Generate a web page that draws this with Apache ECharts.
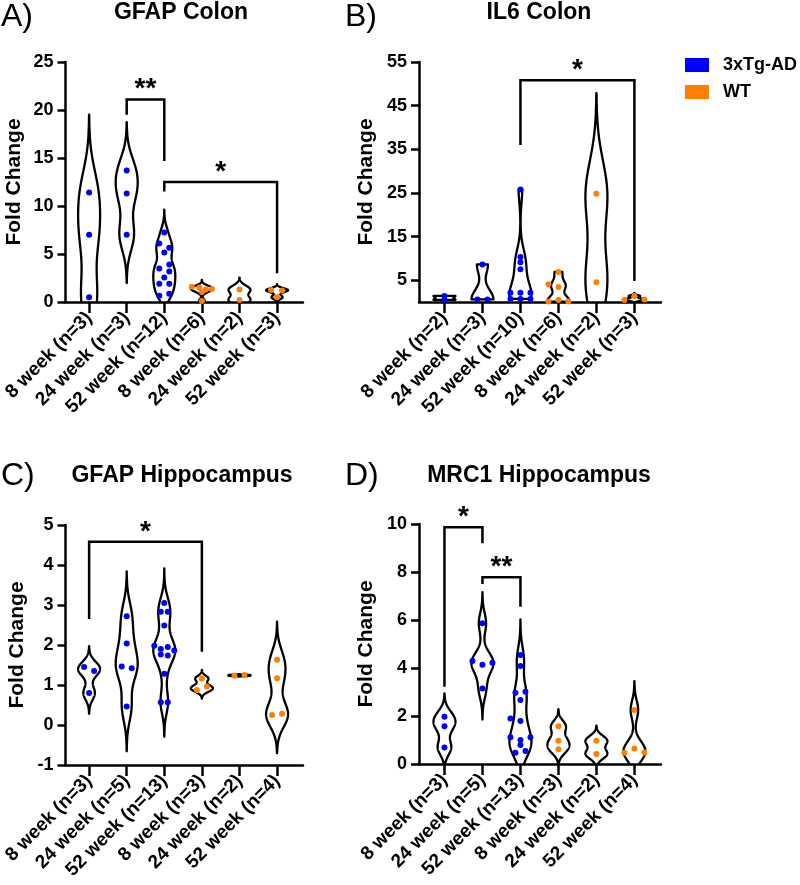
<!DOCTYPE html>
<html><head><meta charset="utf-8">
<script src="https://cdn.jsdelivr.net/npm/echarts@6/dist/echarts.min.js"></script>
<style>html,body{margin:0;padding:0;background:#fff}#c{width:800px;height:885px}</style>
</head><body><div id="c"></div>
<script>
// ---------------- DATA ----------------
const genotypes = ['3xTg-AD','3xTg-AD','3xTg-AD','WT','WT','WT'];

// A) GFAP Colon
const catsA = ['8 week (n=3)','24 week (n=3)','52 week (n=12)','8 week (n=6)','24 week (n=2)','52 week (n=3)'];
const valsA = [
  [11.4, 7.0, 0.5],
  [13.7, 11.3, 7.0],
  [7.24, 6.1, 5.64, 5.16, 3.91, 3.5, 3.19, 2.56, 1.9, 1.9, 0.66, 0.87],
  [1.6, 1.5, 1.3, 1.35, 1.05, 0.1],
  [1.3, 0.2],
  [1.25, 1.2, 0.5]
];
const lanesA = [[0,0,0],[0,0,0],[0,-1,1,0,1,-1,1,0,-1,1,-1,1],[-2,-0.5,0.8,2,0,0],[0,0],[-1.2,1,0]];
const ticksA = [0,5,10,15,20,25];
const bracketsA = [[1,2,21.1,19.5,14.7,'**'],[2,5,12.5,11.5,3.0,'*']];

// B) IL6 Colon
const catsB = ['8 week (n=2)','24 week (n=3)','52 week (n=10)','8 week (n=6)','24 week (n=2)','52 week (n=3)'];
const valsB = [
  [1.4, 0.5],
  [8.6, 0.6, 0.6],
  [25.8, 10.3, 9.1, 7.5, 2.1, 2.1, 2.1, 0.7, 0.7, 0.7],
  [6.9, 4.05, 3.45, 0.1, 0.45, 0.1],
  [24.8, 4.5],
  [0.45, 1.35, 0.6]
];
const lanesB = [[0,0],[0,-1,1],[0,0,0,0,-2,0,2,-2,0,2],[0,-2,0,-2,0,2],[0,0],[-2,0,2]];
const ticksB = [5,15,25,35,45,55];
const bracketsB = [[2,5,50.8,36.0,4.8,'*']];

// C) GFAP Hippocampus
const catsC = ['8 week (n=3)','24 week (n=5)','52 week (n=13)','8 week (n=3)','24 week (n=2)','52 week (n=4)'];
const valsC = [
  [1.45, 1.35, 0.8],
  [2.72, 2.04, 1.46, 1.42, 0.46],
  [3.05, 2.83, 2.83, 2.49, 1.98, 1.9, 1.95, 1.86, 1.76, 1.74, 1.28, 0.57, 0.57],
  [1.16, 0.875, 0.96],
  [1.23, 1.25],
  [1.63, 1.17, 0.25, 0.28]
];
const lanesC = [[-1,1,0],[0,0,-1,1,0],[0,-0.7,0.7,0,-2,-0.7,0.7,2,-0.7,0.7,0,-0.7,0.7],[0,-1,1],[-1,1],[0,0,-1,1]];
const ticksC = [-1,0,1,2,3,4,5];
const bracketsC = [[0,3,4.58,2.65,1.83,'*']];

// D) MRC1 Hippocampus
const catsD = ['8 week (n=3)','24 week (n=5)','52 week (n=13)','8 week (n=3)','24 week (n=2)','52 week (n=4)'];
const valsD = [
  [1.97, 1.57, 0.69],
  [5.86, 4.29, 4.14, 4.22, 3.15],
  [4.54, 4.08, 2.97, 3.01, 2.67, 1.9, 1.79, 1.11, 1.11, 1.0, 0.79, 0.47, 0.54],
  [1.57, 0.97, 0.61],
  [0.97, 0.42],
  [2.25, 0.65, 0.47, 0.48]
];
const lanesD = [[0,0,0],[0,-2,0,2,0],[0,0,-1,1,0,-2,0,-2,2,0,0,-1,1],[0,0,0],[0,0],[0,0,-2,2]];
const ticksD = [0,2,4,6,8,10];
const bracketsD = [[0,1,9.86,3.22,9.2,'*'],[1,2,7.78,7.5,6.55,'**']];

// ---------------- STYLE / LAYOUT ----------------
const FONT = "'Liberation Sans', Arial, Helvetica, sans-serif";
const COLORS = {'3xTg-AD':'#0000ff','WT':'#ff7f00'};
const LANE = 5;        // px per jitter lane
const HALF = 11;       // max half-width of violin (px)
const KERNEL = 0.58;   // kernel sigma relative to Scott bandwidth
const NONE = [false,false,false,false,false,false];

const panels = [
  {title:'GFAP Colon', letter:'A)', cats:catsA, vals:valsA, lanes:lanesA, yMin:0, yMax:25, ticks:ticksA, brackets:bracketsA,
   grid:{left:62, top:62, width:241, height:240}, xr:[-0.63,5.69], nameGap:41, tx:181, ty:1, lx:1, ly:1, trunc:NONE},
  {title:'IL6 Colon', letter:'B)', cats:catsB, vals:valsB, lanes:lanesB, yMin:0, yMax:55, ticks:ticksB, brackets:bracketsB,
   grid:{left:419, top:62, width:242, height:240}, xr:[-0.67,5.70], nameGap:42, tx:539, ty:1, lx:345, ly:1,
   trunc:[true,true,true,true,false,false]},
  {title:'GFAP Hippocampus', letter:'C)', cats:catsC, vals:valsC, lanes:lanesC, yMin:-1, yMax:5, ticks:ticksC, brackets:bracketsC,
   grid:{left:62, top:525, width:241, height:240}, xr:[-0.63,5.69], nameGap:38, tx:182, ty:464, lx:1, ly:460, trunc:NONE},
  {title:'MRC1 Hippocampus', letter:'D)', cats:catsD, vals:valsD, lanes:lanesD, yMin:0, yMax:10, ticks:ticksD, brackets:bracketsD,
   grid:{left:419, top:524, width:242, height:240}, xr:[-0.67,5.70], nameGap:42, tx:539, ty:464, lx:345, ly:460, trunc:NONE}
];

function kdeProfile(vals, truncate) {
  const n = vals.length;
  const mean = vals.reduce((a,b)=>a+b,0)/n;
  const sd = Math.sqrt(vals.reduce((a,b)=>a+(b-mean)*(b-mean),0)/(n-1));
  let s = KERNEL * 1.06 * sd * Math.pow(n, -0.2);
  if (s < 1e-3) s = 1e-3;
  const mn = Math.min(...vals), mxv = Math.max(...vals);
  const lo = truncate ? mn : mn - 3*s, hi = truncate ? mxv : mxv + 3*s;
  const N = 200, ys = [], ds = [];
  let mx = 0;
  const dens = (y) => { let d = 0; vals.forEach(v => { const z = (y-v)/s; d += Math.exp(-0.5*z*z); }); return d; };
  for (let k = 0; k <= N; k++) { const y = mn - 3*s + (mxv-mn+6*s)*k/N; const d = dens(y); if (d > mx) mx = d; }
  for (let k = 0; k <= N; k++) {
    const y = lo + (hi-lo)*k/N;
    ys.push(y); ds.push(dens(y));
  }
  return {ys, ws: ds.map(d => d/mx)};
}

const axisLineStyle = {color:'#000', width:2.5};
const grids = [], xAxes = [], yAxes = [], series = [], graphics = [];

panels.forEach((p, g) => {
  grids.push(Object.assign({containLabel:false}, p.grid));
  xAxes.push({
    type:'value', gridIndex:g, min:p.xr[0], max:p.xr[1],
    axisLine:{show:true, onZero:false, lineStyle:axisLineStyle},
    axisTick:{show:true, length:11, customValues:[0,1,2,3,4,5], lineStyle:{color:'#000', width:2.5}},
    axisLabel:{show:true, customValues:[0,1,2,3,4,5], formatter:(v)=>p.cats[Math.round(v)], rotate:45, margin:13,
      fontFamily:FONT, fontSize:19, fontWeight:'bold', color:'#000'},
    splitLine:{show:false}
  });
  yAxes.push({
    type:'value', gridIndex:g, min:p.yMin, max:p.yMax,
    name:'Fold Change', nameLocation:'middle', nameGap:p.nameGap,
    nameTextStyle:{fontFamily:FONT, fontSize:21, fontWeight:'bold', color:'#000'},
    axisLine:{show:true, onZero:false, lineStyle:axisLineStyle},
    axisTick:{show:true, length:8, customValues:p.ticks, lineStyle:{color:'#000', width:2.5}},
    axisLabel:{show:true, customValues:p.ticks, margin:12, fontFamily:FONT, fontSize:18, fontWeight:'bold', color:'#000'},
    splitLine:{show:false}
  });

  const profiles = p.vals.map((v,i) => kdeProfile(v, p.trunc[i]));
  series.push({
    type:'custom', xAxisIndex:g, yAxisIndex:g, clip:true, z:2, silent:true,
    data: p.vals.map((v,i)=>[i, p.yMin]),
    renderItem:(params, api) => {
      const i = api.value(0);
      const prof = profiles[i];
      const cx = api.coord([i, p.yMin])[0];
      const right = [], left = [];
      prof.ys.forEach((y,k) => {
        const py = api.coord([i, y])[1];
        right.push([cx + prof.ws[k]*HALF, py]);
        left.push([cx - prof.ws[k]*HALF, py]);
      });
      return {type:'polygon', shape:{points:right.concat(left.reverse())},
        style:{fill:'rgba(0,0,0,0)', stroke:'#000', lineWidth:2.3, lineJoin:'round'}};
    }
  });

  ['3xTg-AD','WT'].forEach(gt => {
    const data = [];
    p.vals.forEach((arr,i) => {
      if (genotypes[i] !== gt) return;
      arr.forEach((v,k) => data.push({value:[i, v], symbolOffset:[p.lanes[i][k]*LANE, 0]}));
    });
    series.push({type:'scatter', name:gt, xAxisIndex:g, yAxisIndex:g, symbol:'circle', symbolSize:6,
      itemStyle:{color:COLORS[gt], opacity:1}, data, z:3, clip:false, silent:true});
  });

  series.push({
    type:'custom', xAxisIndex:g, yAxisIndex:g, clip:false, z:4, silent:true,
    data: p.brackets.map((b,k)=>[b[0], b[2], k]),
    renderItem:(params, api) => {
      const b = p.brackets[api.value(2)];
      const x1 = api.coord([b[0], b[2]])[0], x2 = api.coord([b[1], b[2]])[0];
      const yTop = api.coord([b[0], b[2]])[1];
      const yL = api.coord([b[0], b[3]])[1], yR = api.coord([b[1], b[4]])[1];
      return {type:'group', children:[
        {type:'polyline', shape:{points:[[x1,yL],[x1,yTop],[x2,yTop],[x2,yR]]},
          style:{stroke:'#000', lineWidth:2.5, fill:null}},
        {type:'text', x:(x1+x2)/2, y:yTop-10,
          style:{text:b[5], font:'bold 28px '+FONT, fill:'#000', align:'center', verticalAlign:'middle'}}
      ]};
    }
  });

  graphics.push({type:'text', x:p.tx, y:p.ty, style:{text:p.title, font:'bold 23px '+FONT, fill:'#000',
    align:'center', verticalAlign:'top', textAlign:'center', textVerticalAlign:'top'}});
  graphics.push({type:'text', x:p.lx, y:p.ly, style:{text:p.letter, font:'32px '+FONT, fill:'#000',
    align:'left', verticalAlign:'top', textAlign:'left', textVerticalAlign:'top'}});
});

const chart = echarts.init(document.getElementById('c'), null, {renderer:'canvas'});
chart.setOption({
  animation:false,
  backgroundColor:'#fff',
  grid:grids, xAxis:xAxes, yAxis:yAxes, series,
  legend:{data:['3xTg-AD','WT'], orient:'vertical', left:685, top:56, padding:0, icon:'rect', itemWidth:24, itemHeight:14,
    itemGap:9, selectedMode:false,
    textStyle:{fontFamily:FONT, fontSize:18, fontWeight:'bold', color:'#000', padding:[0,0,0,9]}},
  graphic:graphics
});
</script></body></html>
